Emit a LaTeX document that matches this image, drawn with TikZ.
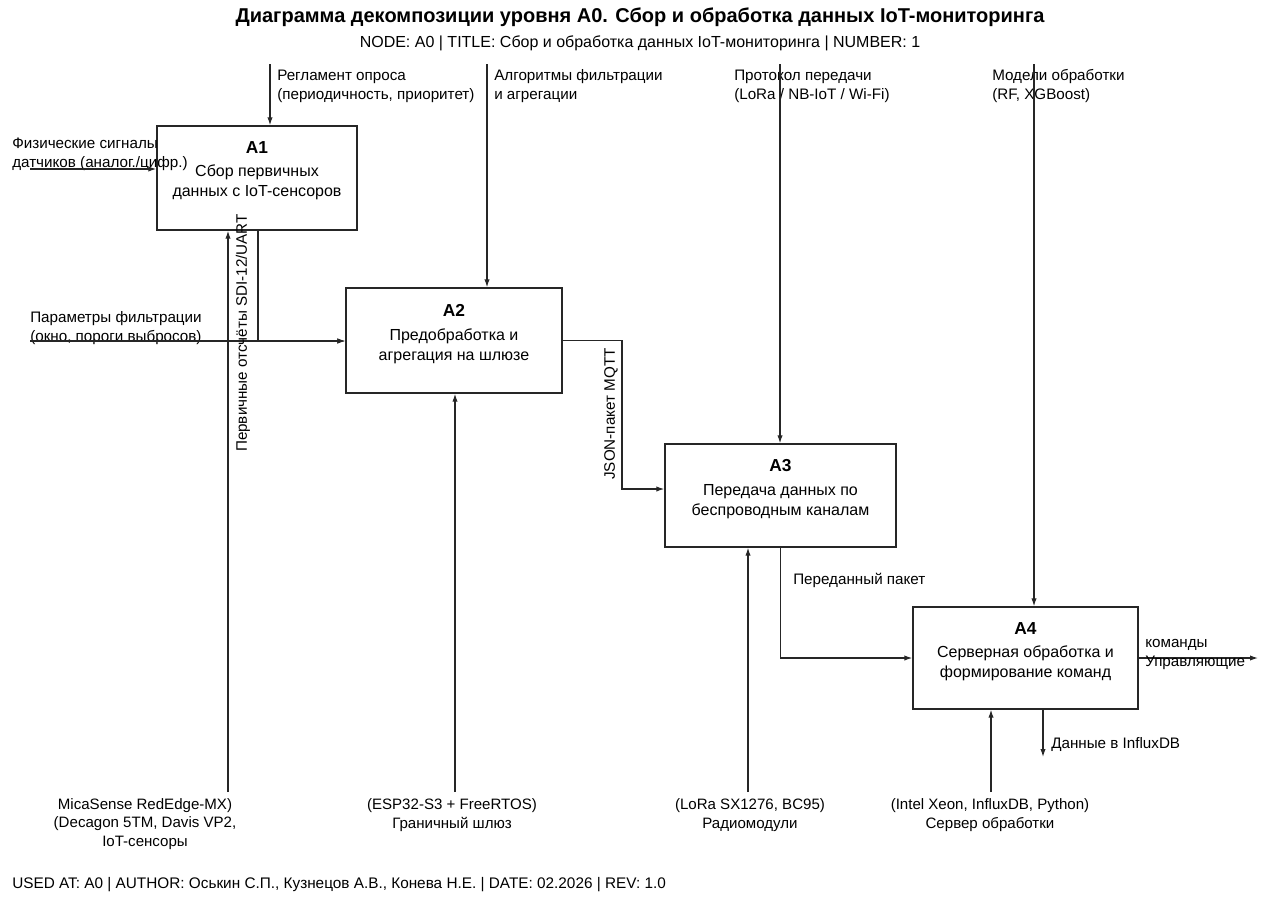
\documentclass[tikz,border=0pt]{standalone}
\usepackage{fontspec}
\setmainfont{Liberation Sans}
\usetikzlibrary{arrows.meta}

\begin{document}
\begin{tikzpicture}[x=0.75pt, y=-0.75pt, font=\fontsize{11.4}{14.25}\selectfont,
  wire/.style={draw=black!85, line width=0.9pt},
  flow/.style={wire, -{Latex[length=6pt,width=4pt]}},
  actbox/.style={draw=black!85, line width=1pt, inner sep=0pt},
  acttxt/.style={align=center, inner sep=0pt, anchor=north, font=\fontsize{12}{15}\selectfont},
  lbl/.style={align=left, anchor=west, inner sep=0pt},
  mlbl/.style={align=center, inner sep=0pt, font=\fontsize{11.3}{14}\selectfont}]

\useasboundingbox (0,0) rectangle (1261,903);

% Title block
\node[inner sep=0pt] (title) at (640,17) {\fontsize{15}{17}\selectfont\bfseries Диаграмма декомпозиции уровня A0. Сбор и обработка данных IoT-мониторинга};
\node[inner sep=0pt] (subtitle) at (640,43) {\fontsize{12}{13}\selectfont NODE: A0 | TITLE: Сбор и обработка данных IoT-мониторинга | NUMBER: 1};

% Activity boxes A1-A4
\node[actbox, minimum width=150pt, minimum height=78pt] (a1) at (257,178) {};
\node[actbox, minimum width=162pt, minimum height=78.75pt] (a2) at (454,340.5) {};
\node[actbox, minimum width=173.25pt, minimum height=77.25pt] (a3) at (780.5,495.5) {};
\node[actbox, minimum width=168.75pt, minimum height=76.5pt] (a4) at (1025.5,658) {};
\node[acttxt] (a1-txt) at ([yshift=-11.8pt]a1.north) {{\fontsize{13}{15}\selectfont\bfseries A1}\\[2.7pt]Сбор первичных\\данных с IoT-сенсоров};
\node[acttxt] (a2-txt) at ([yshift=-12.5pt]a2.north) {{\fontsize{13}{15}\selectfont\bfseries A2}\\[3.2pt]Предобработка и\\агрегация на шлюзе};
\node[acttxt] (a3-txt) at ([yshift=-11.8pt]a3.north) {{\fontsize{13}{15}\selectfont\bfseries A3}\\[2.7pt]Передача данных по\\беспроводным каналам};
\node[acttxt] (a4-txt) at ([yshift=-11.8pt]a4.north) {{\fontsize{13}{15}\selectfont\bfseries A4}\\[2.7pt]Серверная обработка и\\формирование команд};

% Controls (top)
\coordinate (c1) at (270,64);
\coordinate (c2) at (487,64);
\coordinate (c3) at (780,64);
\coordinate (c4) at (1034,64);
\node[lbl] (c1-lbl) at (277,86) {Регламент опроса\\(периодичность, приоритет)};
\node[lbl] (c2-lbl) at (494,86) {Алгоритмы фильтрации\\и агрегации};
\node[lbl] (c3-lbl) at (734,86) {Протокол передачи\\(LoRa / NB-IoT / Wi-Fi)};
\node[lbl] (c4-lbl) at (992,86) {Модели обработки\\(RF, XGBoost)};
\draw[flow] (c1) -- (c1 |- a1.north);
\draw[flow] (c2) -- (c2 |- a2.north);
\draw[flow] (c3) -- (c3 |- a3.north);
\draw[flow] (c4) -- (c4 |- a4.north);

% Inputs (left)
\coordinate (i1) at (30,169);
\coordinate (i2) at (30,341);
\node[lbl] (i1-lbl) at (12,154) {Физические сигналы\\датчиков (аналог./цифр.)};
\node[lbl] (i2-lbl) at (30,328) {Параметры фильтрации\\(окно, пороги выбросов)};
\draw[flow] (i1) -- (i1 -| a1.west);
\draw[flow] (i2) -- (i2 -| a2.west);

% A1 -> A2
\coordinate (o1) at (258,341);
\draw[flow] (o1 |- a1.south) -- (o1) -- (o1 -| a2.west);
\node[inner sep=0pt, rotate=90] (o1-lbl) at (243,333) {Первичные отсчёты SDI-12/UART};

% A2 -> A3
\coordinate (j2) at (622,489);
\draw[flow] (a2.east) -| (j2) -- (j2 -| a3.west);
\node[inner sep=0pt, rotate=90] (j2-lbl) at (611,414) {JSON-пакет MQTT};

% A3 -> A4
\draw[flow] (a3.south) |- (a4.west);
\node[lbl] (j3-lbl) at (793,580) {Переданный пакет};

% Outputs of A4
\coordinate (o4) at (1258,658);
\coordinate (d4) at (1043,757);
\draw[flow] (a4.east) -- (o4);
\draw[flow] (d4 |- a4.south) -- (d4);
\node[lbl] (o4-lbl) at (1145,654) {команды\\Управляющие};
\node[lbl] (d4-lbl) at (1051,745) {Данные в InfluxDB};

% Mechanisms (bottom)
\coordinate (m1) at (228,792);
\coordinate (m2) at (455,792);
\coordinate (m3) at (748,792);
\coordinate (m4) at (991,792);
\draw[flow] (m1) -- (m1 |- a1.south);
\draw[flow] (m2) -- (m2 |- a2.south);
\draw[flow] (m3) -- (m3 |- a3.south);
\draw[flow] (m4) -- (m4 |- a4.south);
\node[mlbl] (m1-lbl) at (145,824) {MicaSense RedEdge-MX)\\(Decagon 5TM, Davis VP2,\\IoT-сенсоры};
\node[mlbl] (m2-lbl) at (452,815) {(ESP32-S3 + FreeRTOS)\\Граничный шлюз};
\node[mlbl] (m3-lbl) at (750,815) {(LoRa SX1276, BC95)\\Радиомодули};
\node[mlbl] (m4-lbl) at (990,815) {(Intel Xeon, InfluxDB, Python)\\Сервер обработки};

% Footer
\node[lbl] (footer) at (12,885) {\fontsize{11.5}{13}\selectfont USED AT: A0 | AUTHOR: Оськин С.П., Кузнецов А.В., Конева Н.Е. | DATE: 02.2026 | REV: 1.0};

\end{tikzpicture}
\end{document}
